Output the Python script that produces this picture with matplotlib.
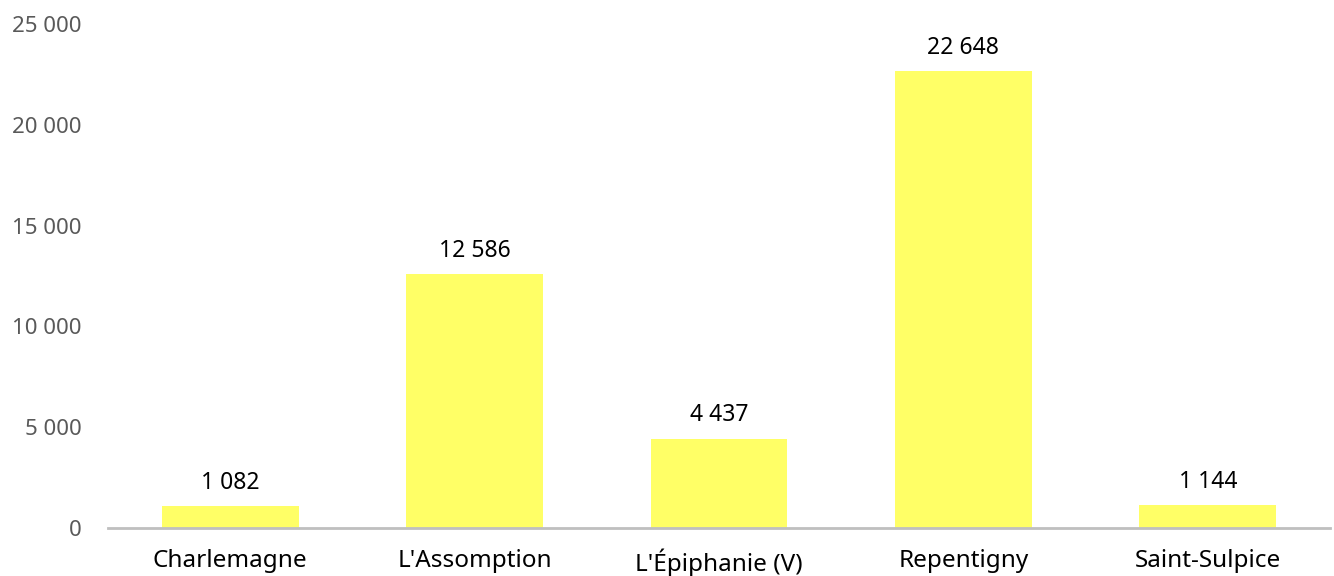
import matplotlib
matplotlib.use("Agg")
import matplotlib.pyplot as plt

categories = ["Charlemagne", "L'Assomption", "L'Épiphanie (V)", "Repentigny", "Saint-Sulpice"]
values = [1082, 12586, 4437, 22648, 1144]
yticks = [0, 5000, 10000, 15000, 20000, 25000]

def fmt(v):
    return f"{v:,}".replace(",", " ")

plt.rcParams['font.family'] = ['Noto Sans', 'DejaVu Sans']

fig = plt.figure(figsize=(13.34, 5.76), dpi=100)
ax = fig.add_axes([108/1334, 48/576, 1222/1334, 504/576])
x = list(range(len(categories)))
bars = ax.bar(x, values, width=0.56, color="#FFFF66", zorder=2)
for xi, v in zip(x, values):
    ax.annotate(fmt(v), (xi, v), xytext=(0, 8), textcoords="offset points",
                ha="center", va="bottom", fontsize=16.5, color="black")
ax.set_xlim(-0.5, len(categories) - 0.5)
ax.set_ylim(0, 25000)
ax.set_yticks(yticks)
ax.set_yticklabels([fmt(t) for t in yticks], fontsize=16, color="#595959")
ax.set_xticks(x)
ax.set_xticklabels(categories, fontsize=17.5, color="black")
for s in ["top", "right", "left"]:
    ax.spines[s].set_visible(False)
ax.spines["bottom"].set_color("#BFBFBF")
ax.spines["bottom"].set_linewidth(2)
ax.tick_params(axis="y", length=0, pad=19)
ax.tick_params(axis="x", length=0, pad=15)
fig.savefig("out.png", dpi=100)
